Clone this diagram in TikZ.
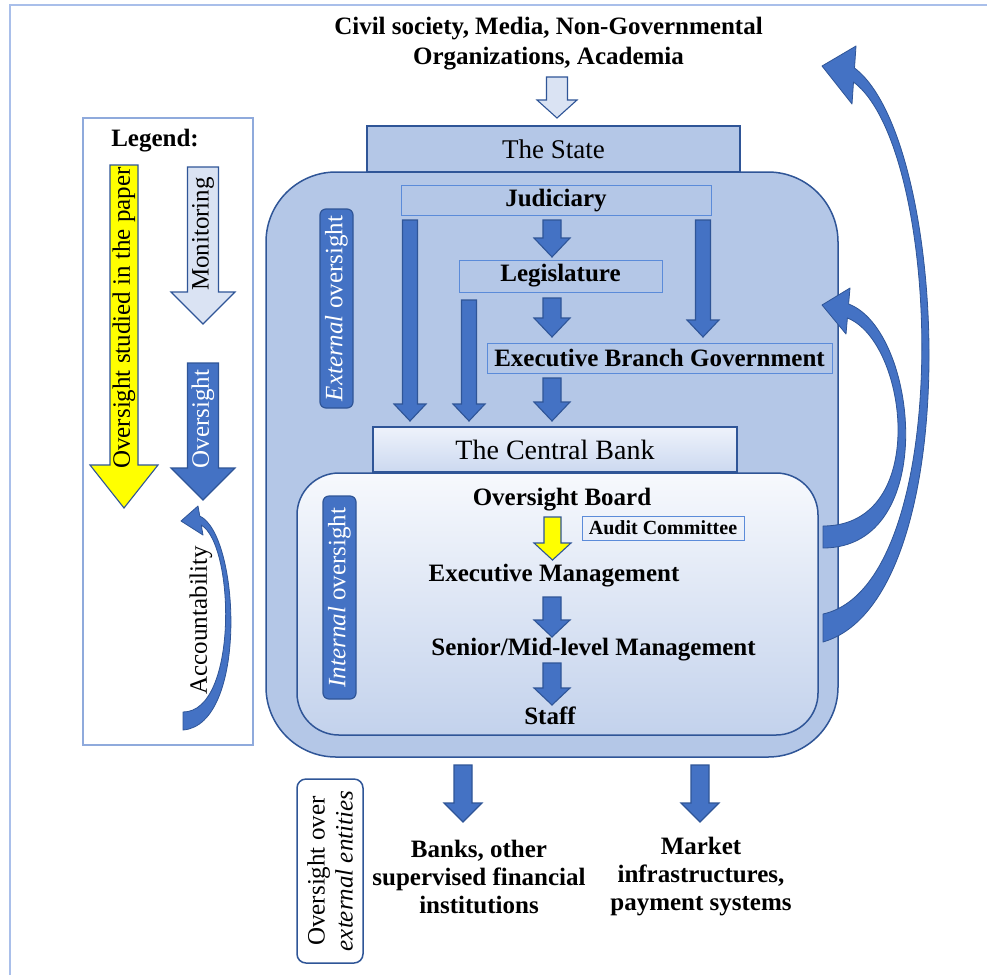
\documentclass[tikz,border=0pt]{standalone}
\usepackage{fontspec}
\setmainfont{Liberation Serif}
\usetikzlibrary{calc}
\definecolor{abl}{HTML}{4472C4}
\definecolor{bdr}{HTML}{2F5597}
\definecolor{bgb}{HTML}{B4C7E7}
\definecolor{lfill}{HTML}{DAE3F3}
\definecolor{tbl}{HTML}{5B8BD9}
\definecolor{frm}{HTML}{A9BFEA}
\definecolor{lgd}{HTML}{8FAADC}
\definecolor{ylw}{HTML}{FFFF00}
\definecolor{cbtop}{HTML}{EEF2FB}
\definecolor{cbbot}{HTML}{CCD9F0}
\definecolor{intop}{HTML}{F7F9FD}
\definecolor{inbot}{HTML}{C3D2EC}
\tikzset{
  aw/.store in=\blkW, ah/.store in=\blkH, al/.store in=\blkL,
  aw=9, ah=18, al=18,
  barrow/.style={draw=bdr, fill=abl, line width=1.1pt, line join=miter,
    to path={let \p1=(\tikztostart), \p2=(\tikztotarget) in
      (\x1-\blkW pt,\y1) -- (\x1-\blkW pt,\y2+\blkL pt) -- (\x1-\blkH pt,\y2+\blkL pt) -- (\x1,\y2)
      -- (\x1+\blkH pt,\y2+\blkL pt) -- (\x1+\blkW pt,\y2+\blkL pt) -- (\x1+\blkW pt,\y1) -- cycle}},
  bt/.style={font=\fontsize{25}{29}\selectfont\bfseries, inner sep=0pt},
  rt/.style={font=\fontsize{25}{28}\selectfont, inner sep=0pt},
  thinbox/.style={bt, draw=tbl, line width=1pt, fill=bgb},
  tagbox/.style={rt, rotate=90, draw=bdr, line width=1.2pt, fill=abl, text=white,
    rounded corners=6pt, minimum height=33pt},
  curvarr/.style={fill=abl, draw=bdr, line width=0.8pt, line join=round},
}
\begin{document}
\begin{tikzpicture}[x=1pt,y=-1pt]
\useasboundingbox (0,0) rectangle (987,975);
\fill[white] (0,0) rectangle (987,975);
\draw[frm, line width=2pt] (10,975) -- (10,5) -- (987,5);

% ---------- legend ----------
\draw[lgd, line width=1.8pt] (83,118) rectangle (253,745);
\node[bt] (leg) at (155,141) {Legend:};
\coordinate (ya) at (124,165); \coordinate (yb) at (124,508);
\draw[barrow, fill=ylw, aw=14, ah=34, al=43] (ya) to (yb);
\node[rt, rotate=90] (ytxt) at (124,318) {Oversight studied in the paper};
\coordinate (ma) at (203,167); \coordinate (mb) at (203,324);
\draw[barrow, fill=lfill, aw=15.5, ah=32, al=32] (ma) to (mb);
\node[rt, rotate=90] (mtxt) at (203,234) {Monitoring};
\coordinate (oa) at (203,363); \coordinate (obb) at (203,500);
\draw[barrow, aw=15.5, ah=32, al=32] (oa) to (obb);
\node[rt, rotate=90, text=white] (otxt) at (203,419) {Oversight};
\path[curvarr] (183,730) .. controls (248,725) and (240,535) .. (199.75,516) -- (198,506) -- (181,521)
  -- (203,535) -- (201.25,525) .. controls (235,545) and (238,712) .. (183,712) -- cycle;
\node[rt, rotate=90] (atxt) at (201,620) {Accountability};

% ---------- top ----------
\node[bt, align=center, font=\fontsize{25}{30}\selectfont\bfseries] (civ) at (548.5,44)
  {Civil society, Media, Non-Governmental\\Organizations, Academia};
\coordinate (c1) at (557,77); \coordinate (c2) at (557,118);
\draw[barrow, fill=lfill, aw=10.5, ah=20, al=18] (c1) to (c2);

% ---------- outer (State) ----------
\draw[bdr, fill=bgb, line width=1.5pt, rounded corners=70pt] (266,172) rectangle (838,757);
\node[draw=bdr, line width=1.5pt, fill=bgb, minimum width=373pt, minimum height=46pt,
  font=\fontsize{27}{30}\selectfont, inner sep=0pt] (state) at (553.5,149) {The State};

% ---------- inner (Central Bank) ----------
\draw[bdr, line width=1.5pt, rounded corners=42pt, top color=intop, bottom color=inbot]
  (297,473) rectangle (818,735);
\node[draw=bdr, line width=1.5pt, top color=cbtop, bottom color=cbbot, minimum width=364pt,
  minimum height=45pt, font=\fontsize{28}{30}\selectfont, inner sep=0pt] (cb) at (555,449.5) {The Central Bank};

% ---------- external oversight ----------
\node[thinbox, minimum width=310pt, minimum height=30pt] (jud) at (556,200.5) {Judiciary};
\node[thinbox, minimum width=203pt, minimum height=32pt] (legis) at (560.5,276) {Legislature};
\node[thinbox, minimum width=345pt, minimum height=30pt] (exe) at (659.5,358) {Executive Branch Government};
\node[tagbox, minimum width=199pt] (ext) at (336.5,308.5) {\textit{External} oversight};

\coordinate (j1) at (552,220); \coordinate (j2) at (552,257);
\draw[barrow, aw=9, ah=18, al=19] (j1) to (j2);
\coordinate (l1) at (552,298); \coordinate (l2) at (552,337);
\draw[barrow, aw=9, ah=18, al=19] (l1) to (l2);
\coordinate (e1) at (552,378); \coordinate (e2) at (552,421);
\draw[barrow, aw=9, ah=18, al=19] (e1) to (e2);
\coordinate (p1) at (410,220); \coordinate (p2) at (410,421);
\draw[barrow, aw=7.5, ah=16, al=17] (p1) to (p2);
\coordinate (q1) at (469,300); \coordinate (q2) at (469,421);
\draw[barrow, aw=7.5, ah=16, al=17] (q1) to (q2);
\coordinate (r1) at (703,220); \coordinate (r2) at (703,337);
\draw[barrow, aw=7.5, ah=16, al=17] (r1) to (r2);

% ---------- internal oversight ----------
\node[tagbox, minimum width=203pt] (int) at (339.5,597.5) {\textit{Internal} oversight};
\node[bt] (ob) at (562,500) {Oversight Board};
\node[draw=tbl, line width=1pt, font=\fontsize{20}{22}\selectfont\bfseries, inner sep=0pt,
  minimum width=162pt, minimum height=24pt] (aud) at (663,528) {Audit Committee};
\node[bt] (em) at (554,575.5) {Executive Management};
\node[bt] (sm) at (593.5,649.5) {Senior/Mid-level Management};
\node[bt] (st) at (550,715.5) {Staff};
\coordinate (y1) at (552.5,517); \coordinate (y2) at (552.5,560);
\draw[barrow, fill=ylw, aw=8.5, ah=18.5, al=17] (y1) to (y2);
\coordinate (s1) at (552,597); \coordinate (s2) at (552,637);
\draw[barrow, aw=9, ah=18, al=17] (s1) to (s2);
\coordinate (t1) at (552,663); \coordinate (t2) at (552,705);
\draw[barrow, aw=9, ah=18, al=17] (t1) to (t2);

% ---------- accountability arrows on the right ----------
\path[curvarr] (823,548) .. controls (940,548) and (918,330) .. (848.6,304) -- (850,288) -- (822,305)
  -- (846,334) -- (847.4,318) .. controls (908,342) and (930,526) .. (823,526) -- cycle;
\path[curvarr] (823,642) .. controls (968,600) and (950,140) .. (854.5,68) -- (856,46) -- (822,66)
  -- (852,104) -- (853.5,82) .. controls (944,150) and (955,585) .. (823,614) -- cycle;

% ---------- oversight over external entities ----------
\coordinate (b1) at (463,765); \coordinate (b2) at (463,822);
\draw[barrow, aw=9, ah=19, al=19] (b1) to (b2);
\coordinate (k1) at (700,765); \coordinate (k2) at (700,822);
\draw[barrow, aw=9, ah=19, al=19] (k1) to (k2);
\node[bt, align=center, font=\fontsize{25}{28}\selectfont\bfseries] (banks) at (479,877)
  {Banks, other\\supervised financial\\institutions};
\node[bt, align=center, font=\fontsize{25}{28}\selectfont\bfseries] (mkt) at (701,877)
  {Market\\infrastructures,\\payment systems};
\node[rt, rotate=90, draw=bdr, line width=1.5pt, fill=white, rounded corners=9pt,
  minimum width=184pt, minimum height=66pt, align=center] (ovx) at (330,871)
  {Oversight over\\\textit{external entities}};
\end{tikzpicture}
\end{document}
